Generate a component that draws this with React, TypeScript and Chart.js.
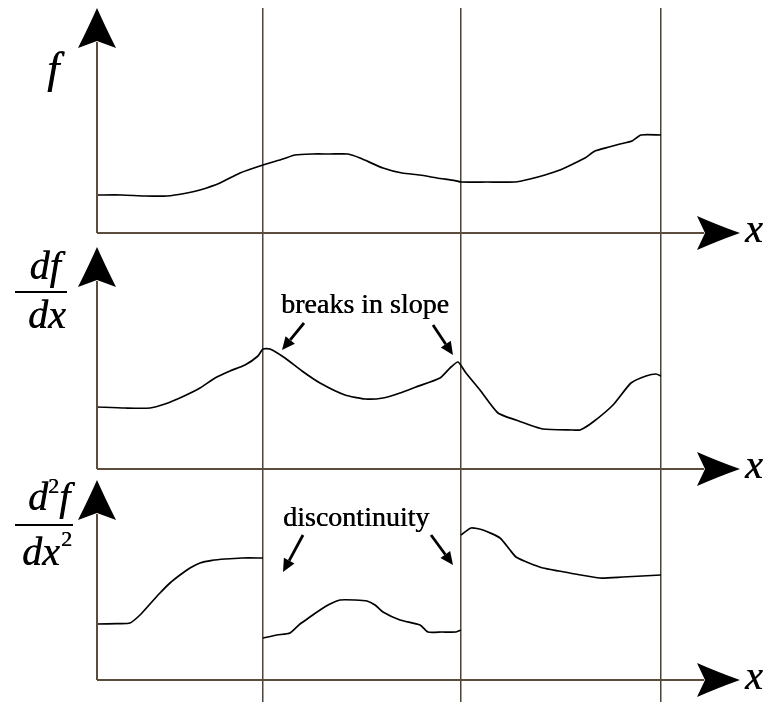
import React, { useEffect, useRef } from "react";
import { Chart, registerables } from "chart.js";

Chart.register(...registerables);

// x positions measured from the y axis; vertical guide lines at the breaks
const BREAKS = [166, 364, 564];

// f(x)
const F_X = [0, 25, 48, 70, 90, 103, 123, 143, 166, 186, 198, 215, 233, 251, 263, 286, 305, 323, 340, 358, 364, 390, 418, 433, 448, 463, 476, 488, 498, 512, 523, 535, 544, 564];
const F_Y = [1.9, 1.9, 1.85, 1.85, 2.0, 2.15, 2.5, 3.0, 3.4, 3.7, 3.9, 3.95, 3.95, 3.95, 3.75, 3.25, 3.0, 2.9, 2.75, 2.62, 2.55, 2.55, 2.55, 2.7, 2.9, 3.15, 3.45, 3.75, 4.1, 4.3, 4.45, 4.6, 4.9, 4.9];

// df/dx
const D1_X = [0, 28, 53, 68, 85, 103, 118, 133, 148, 161, 166, 173, 188, 205, 223, 248, 268, 286, 303, 319, 343, 354, 361, 369, 383, 401, 419, 446, 476, 483, 496, 516, 534, 549, 559, 564];
const D1_Y = [3.1, 3.05, 3.05, 3.25, 3.6, 4.05, 4.55, 4.9, 5.2, 5.65, 6.0, 6.0, 5.55, 4.9, 4.3, 3.7, 3.5, 3.55, 3.8, 4.1, 4.55, 5.1, 5.35, 4.8, 3.95, 2.8, 2.45, 2.0, 1.95, 1.95, 2.35, 3.2, 4.3, 4.65, 4.75, 4.65];

// d2f/dx2, three pieces
const D2A_X = [0, 20, 33, 43, 53, 63, 73, 83, 93, 103, 115, 128, 145, 166];
const D2A_Y = [2.8, 2.82, 2.85, 3.25, 3.8, 4.35, 4.85, 5.25, 5.6, 5.85, 5.98, 6.05, 6.1, 6.1];
const D2B_X = [166, 180, 193, 203, 213, 223, 233, 243, 258, 270, 278, 286, 303, 323, 331, 345, 359, 364];
const D2B_Y = [2.1, 2.25, 2.35, 2.8, 3.15, 3.5, 3.8, 4.0, 4.0, 3.95, 3.75, 3.4, 3.0, 2.75, 2.4, 2.4, 2.4, 2.5];
const D2C_X = [364, 374, 386, 403, 413, 419, 432, 446, 462, 478, 503, 526, 545, 564];
const D2C_Y = [7.25, 7.6, 7.5, 7.1, 6.5, 6.15, 5.85, 5.6, 5.45, 5.3, 5.1, 5.15, 5.2, 5.25];

const AXIS_COLOR = "#5b4c3d";
const GRID_COLOR = "#4d4237";
const INK = "#000000";
const SERIF = "'Liberation Serif', 'Times New Roman', serif";

const pts = (xs: number[], ys: number[]) => xs.map((x, i) => ({ x, y: ys[i] }));

const lineDs = (xs: number[], ys: number[], axis: string) => ({
  data: pts(xs, ys),
  yAxisID: axis,
  borderColor: INK,
  borderWidth: 1.7,
  pointRadius: 0,
  tension: 0.2,
  fill: false,
});

// decoration layout in data units of each panel
const PANELS = [
  { axis: "y1", tip: 11.25 },
  { axis: "y2", tip: 11.1 },
  { axis: "y3", tip: 10.0 },
];

function upArrow(ctx: CanvasRenderingContext2D, cx: number, ty: number) {
  ctx.beginPath();
  ctx.moveTo(cx, ty);
  ctx.quadraticCurveTo(cx + 8, ty + 18, cx + 19, ty + 40);
  ctx.lineTo(cx, ty + 33);
  ctx.lineTo(cx - 19, ty + 40);
  ctx.quadraticCurveTo(cx - 8, ty + 18, cx, ty);
  ctx.closePath();
  ctx.fill();
}

function rightArrow(ctx: CanvasRenderingContext2D, tx: number, cy: number) {
  ctx.beginPath();
  ctx.moveTo(tx, cy);
  ctx.quadraticCurveTo(tx - 20, cy - 7, tx - 43, cy - 17);
  ctx.lineTo(tx - 35, cy);
  ctx.lineTo(tx - 43, cy + 17);
  ctx.quadraticCurveTo(tx - 20, cy + 7, tx, cy);
  ctx.closePath();
  ctx.fill();
}

function smallArrow(ctx: CanvasRenderingContext2D, x1: number, y1: number, x2: number, y2: number) {
  const ang = Math.atan2(y2 - y1, x2 - x1);
  const hl = 13;
  const hw = 6;
  const bx = x2 - hl * Math.cos(ang);
  const by = y2 - hl * Math.sin(ang);
  ctx.beginPath();
  ctx.moveTo(x1, y1);
  ctx.lineTo(bx, by);
  ctx.lineWidth = 2.8;
  ctx.strokeStyle = INK;
  ctx.stroke();
  ctx.beginPath();
  ctx.moveTo(x2, y2);
  ctx.lineTo(bx + hw * Math.sin(ang), by - hw * Math.cos(ang));
  ctx.lineTo(bx - hw * Math.sin(ang), by + hw * Math.cos(ang));
  ctx.closePath();
  ctx.fillStyle = INK;
  ctx.fill();
}

function heavyText(ctx: CanvasRenderingContext2D, t: string, x: number, y: number) {
  ctx.fillStyle = INK;
  ctx.fillText(t, x, y);
  ctx.fillText(t, x + 0.5, y);
}

type Run = { t: string; size: number; italic: boolean; dy: number; dx?: number };
function drawRuns(ctx: CanvasRenderingContext2D, runs: Run[], cx: number, baseline: number) {
  let total = 0;
  runs.forEach((r) => {
    ctx.font = `${r.italic ? "italic " : ""}${r.size}px ${SERIF}`;
    total += ctx.measureText(r.t).width + (r.dx || 0);
  });
  let x = cx - total / 2;
  ctx.textAlign = "left";
  ctx.textBaseline = "alphabetic";
  runs.forEach((r) => {
    ctx.font = `${r.italic ? "italic " : ""}${r.size}px ${SERIF}`;
    x += r.dx || 0;
    heavyText(ctx, r.t, x, baseline + r.dy);
    x += ctx.measureText(r.t).width;
  });
}

const decorations = {
  id: "decorations",
  afterDatasetsDraw(chart: any) {
    const ctx: CanvasRenderingContext2D = chart.ctx;
    const xs = chart.scales.x;
    const x0 = xs.getPixelForValue(0);
    const xEnd = chart.chartArea.right;
    ctx.save();
    PANELS.forEach((p) => {
      const ys = chart.scales[p.axis];
      const y0 = ys.getPixelForValue(0);
      const yTip = ys.getPixelForValue(p.tip);
      ctx.strokeStyle = AXIS_COLOR;
      ctx.lineWidth = 2;
      ctx.beginPath();
      ctx.moveTo(x0, y0);
      ctx.lineTo(xEnd - 36, y0);
      ctx.moveTo(x0, y0);
      ctx.lineTo(x0, yTip + 34);
      ctx.stroke();
      ctx.fillStyle = INK;
      upArrow(ctx, x0, yTip);
      rightArrow(ctx, xEnd, y0);
      ctx.font = `italic 40px ${SERIF}`;
      ctx.textAlign = "left";
      ctx.textBaseline = "alphabetic";
      heavyText(ctx, "x", xEnd + 5, y0 + 9);
    });

    // f label
    const y1 = chart.scales.y1;
    drawRuns(ctx, [{ t: "f", size: 44, italic: true, dy: 0 }], x0 - 44, y1.getPixelForValue(7.5));

    // df/dx label
    const y2 = chart.scales.y2;
    const line2 = y2.getPixelForValue(8.85);
    drawRuns(ctx, [{ t: "df", size: 40, italic: true, dy: 0 }], x0 - 52, line2 - 13);
    drawRuns(ctx, [{ t: "dx", size: 40, italic: true, dy: 0 }], x0 - 50, line2 + 36);
    ctx.fillStyle = INK;
    ctx.fillRect(x0 - 82, line2 - 1, 52, 2);

    // d2f/dx2 label
    const y3 = chart.scales.y3;
    const line3 = y3.getPixelForValue(7.75);
    drawRuns(
      ctx,
      [
        { t: "d", size: 40, italic: true, dy: 0 },
        { t: "2", size: 22, italic: false, dy: -17, dx: 0 },
        { t: "f", size: 40, italic: true, dy: 0, dx: 0 },
      ],
      x0 - 48,
      line3 - 15
    );
    drawRuns(
      ctx,
      [
        { t: "dx", size: 40, italic: true, dy: 0 },
        { t: "2", size: 22, italic: false, dy: -19, dx: 1 },
      ],
      x0 - 50,
      line3 + 40
    );
    ctx.fillStyle = INK;
    ctx.fillRect(x0 - 82, line3 - 1, 58, 2);

    // annotations
    ctx.font = `28px ${SERIF}`;
    ctx.textAlign = "left";
    ctx.textBaseline = "alphabetic";
    heavyText(ctx, "breaks in slope", xs.getPixelForValue(184), y2.getPixelForValue(7.8));
    smallArrow(ctx, xs.getPixelForValue(207), y2.getPixelForValue(7.3), xs.getPixelForValue(185), y2.getPixelForValue(5.95));
    smallArrow(ctx, xs.getPixelForValue(336), y2.getPixelForValue(7.2), xs.getPixelForValue(356), y2.getPixelForValue(5.7));

    ctx.font = `28px ${SERIF}`;
    heavyText(ctx, "discontinuity", xs.getPixelForValue(186), y3.getPixelForValue(7.7));
    smallArrow(ctx, xs.getPixelForValue(206), y3.getPixelForValue(7.25), xs.getPixelForValue(186), y3.getPixelForValue(5.4));
    smallArrow(ctx, xs.getPixelForValue(334), y3.getPixelForValue(7.25), xs.getPixelForValue(356), y3.getPixelForValue(5.75));
    ctx.restore();
  },
};

export default function App() {
  const ref = useRef<HTMLCanvasElement | null>(null);
  useEffect(() => {
    if (!ref.current) return;
    const chart = new Chart(ref.current, {
      type: "line",
      data: {
        datasets: [
          lineDs(F_X, F_Y, "y1"),
          lineDs(D1_X, D1_Y, "y2"),
          lineDs(D2A_X, D2A_Y, "y3"),
          lineDs(D2B_X, D2B_Y, "y3"),
          lineDs(D2C_X, D2C_Y, "y3"),
        ] as any,
      },
      options: {
        animation: false,
        responsive: false,
        maintainAspectRatio: false,
        events: [],
        layout: { padding: { left: 97, right: 26, top: 8, bottom: 0 } },
        plugins: { legend: { display: false }, tooltip: { enabled: false }, title: { display: false } },
        scales: {
          x: {
            type: "linear",
            min: 0,
            max: 643,
            border: { display: false },
            ticks: { display: false },
            grid: { color: GRID_COLOR, lineWidth: 1.5, drawTicks: false },
            afterBuildTicks: (s: any) => {
              s.ticks = BREAKS.map((v) => ({ value: v }));
            },
          },
          y1: { type: "linear", display: false, min: -23.45, max: 11.25 },
          y2: { type: "linear", display: false, min: -11.65, max: 23.05 },
          y3: { type: "linear", display: false, min: -1.1, max: 33.6 },
        },
      } as any,
      plugins: [decorations],
    });
    return () => chart.destroy();
  }, []);
  return (
    <div style={{ position: "absolute", left: 0, top: 0, width: 766, height: 702, background: "#fff" }}>
      <canvas ref={ref} width={766} height={702} style={{ display: "block" }} />
    </div>
  );
}
